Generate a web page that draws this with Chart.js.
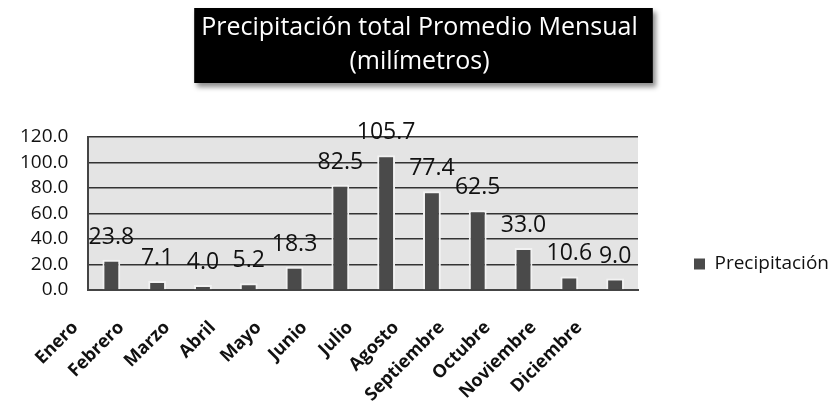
<!DOCTYPE html>
<html>
<head>
<meta charset="utf-8">
<script src="https://cdn.jsdelivr.net/npm/chart.js@4/dist/chart.umd.min.js"></script>
<style>
  html, body { margin: 0; padding: 0; background: #fff; }
  #wrap { width: 839px; height: 407px; }
</style>
</head>
<body>
<div id="wrap"><canvas id="myChart" width="839" height="407"></canvas></div>
<script>
const months = ['Enero', 'Febrero', 'Marzo', 'Abril', 'Mayo', 'Junio', 'Julio', 'Agosto', 'Septiembre', 'Octubre', 'Noviembre', 'Diciembre'];
const precipitacion = [23.8, 7.1, 4.0, 5.2, 18.3, 82.5, 105.7, 77.4, 62.5, 33.0, 10.6, 9.0];
const titleLines = ['Precipitación total Promedio Mensual', '(milímetros)'];
const seriesName = 'Precipitación';

// gray plot background + black title box with shadow
const backdrop = {
  id: 'backdrop',
  beforeDraw(chart) {
    const { ctx, chartArea: a } = chart;
    ctx.save();
    ctx.fillStyle = '#e4e4e4';
    ctx.fillRect(a.left, a.top, a.right - a.left, a.bottom - a.top);

    const t = chart.titleBlock;
    const f = Chart.helpers.toFont(t.options.font);
    ctx.font = f.string;
    const w = Math.max(...titleLines.map(s => ctx.measureText(s).width)) + 22;
    const cx = (t.left + t.right) / 2 + 4;
    ctx.shadowColor = 'rgba(0,0,0,0.45)';
    ctx.shadowBlur = 5;
    ctx.shadowOffsetX = 3;
    ctx.shadowOffsetY = 4;
    ctx.fillStyle = '#000';
    ctx.fillRect(cx - w / 2, 8, w, 75);
    ctx.restore();
  }
};

// value labels above bars
const valueLabels = {
  id: 'valueLabels',
  afterDatasetsDraw(chart) {
    const { ctx } = chart;
    const meta = chart.getDatasetMeta(0);
    ctx.save();
    ctx.font = '23px "Open Sans"';
    ctx.fillStyle = '#111';
    ctx.textAlign = 'center';
    ctx.textBaseline = 'alphabetic';
    meta.data.forEach((bar, i) => {
      ctx.fillText(precipitacion[i].toFixed(1), bar.x, bar.y - 16);
    });
    ctx.restore();
  }
};

const ctx = document.getElementById('myChart').getContext('2d');
const myChart = new Chart(ctx, {
  type: 'bar',
  data: {
    labels: months,
    datasets: [{
      label: seriesName,
      data: precipitacion,
      backgroundColor: '#4a4a4a',
      borderColor: '#f2f2f2',
      borderWidth: 2,
      categoryPercentage: 1,
      barPercentage: 0.39
    }]
  },
  options: {
    responsive: false,
    animation: false,
    layout: { padding: 0 },
    plugins: {
      title: {
        display: true,
        text: titleLines,
        color: '#fff',
        font: { family: '"Open Sans"', size: 25, weight: 'normal', lineHeight: 1.36 },
        padding: { top: 11, bottom: 58 }
      },
      legend: {
        position: 'right',
        // empty legend title only pushes the single item down
        title: { display: true, text: '', font: { size: 10 }, padding: { top: 0, bottom: 109 } },
        labels: {
          boxWidth: 11,
          boxHeight: 11,
          padding: 56,
          color: '#111',
          font: { family: '"Open Sans"', size: 19 },
          generateLabels: chart => Chart.defaults.plugins.legend.labels.generateLabels(chart)
            .map(l => ({ ...l, lineWidth: 0 }))
        }
      },
      tooltip: { enabled: false }
    },
    scales: {
      x: {
        grid: { display: false, drawTicks: false },
        border: { color: '#444', width: 2 },
        ticks: {
          color: '#111',
          font: { family: '"Open Sans"', size: 18, weight: 'bold' },
          minRotation: 45,
          maxRotation: 45,
          autoSkip: false,
          padding: 27,
          labelOffset: -36
        },
        afterFit: scale => { scale.height = 117; }
      },
      y: {
        min: 0,
        max: 120,
        grid: { color: '#333', lineWidth: 1.5, drawTicks: false },
        border: { color: '#444', width: 2 },
        ticks: {
          stepSize: 20,
          autoSkip: false,
          padding: 20,
          color: '#111',
          font: { family: '"Open Sans"', size: 19 },
          callback: v => v.toFixed(1)
        }
      }
    }
  },
  plugins: [backdrop, valueLabels]
});
</script>
</body>
</html>
